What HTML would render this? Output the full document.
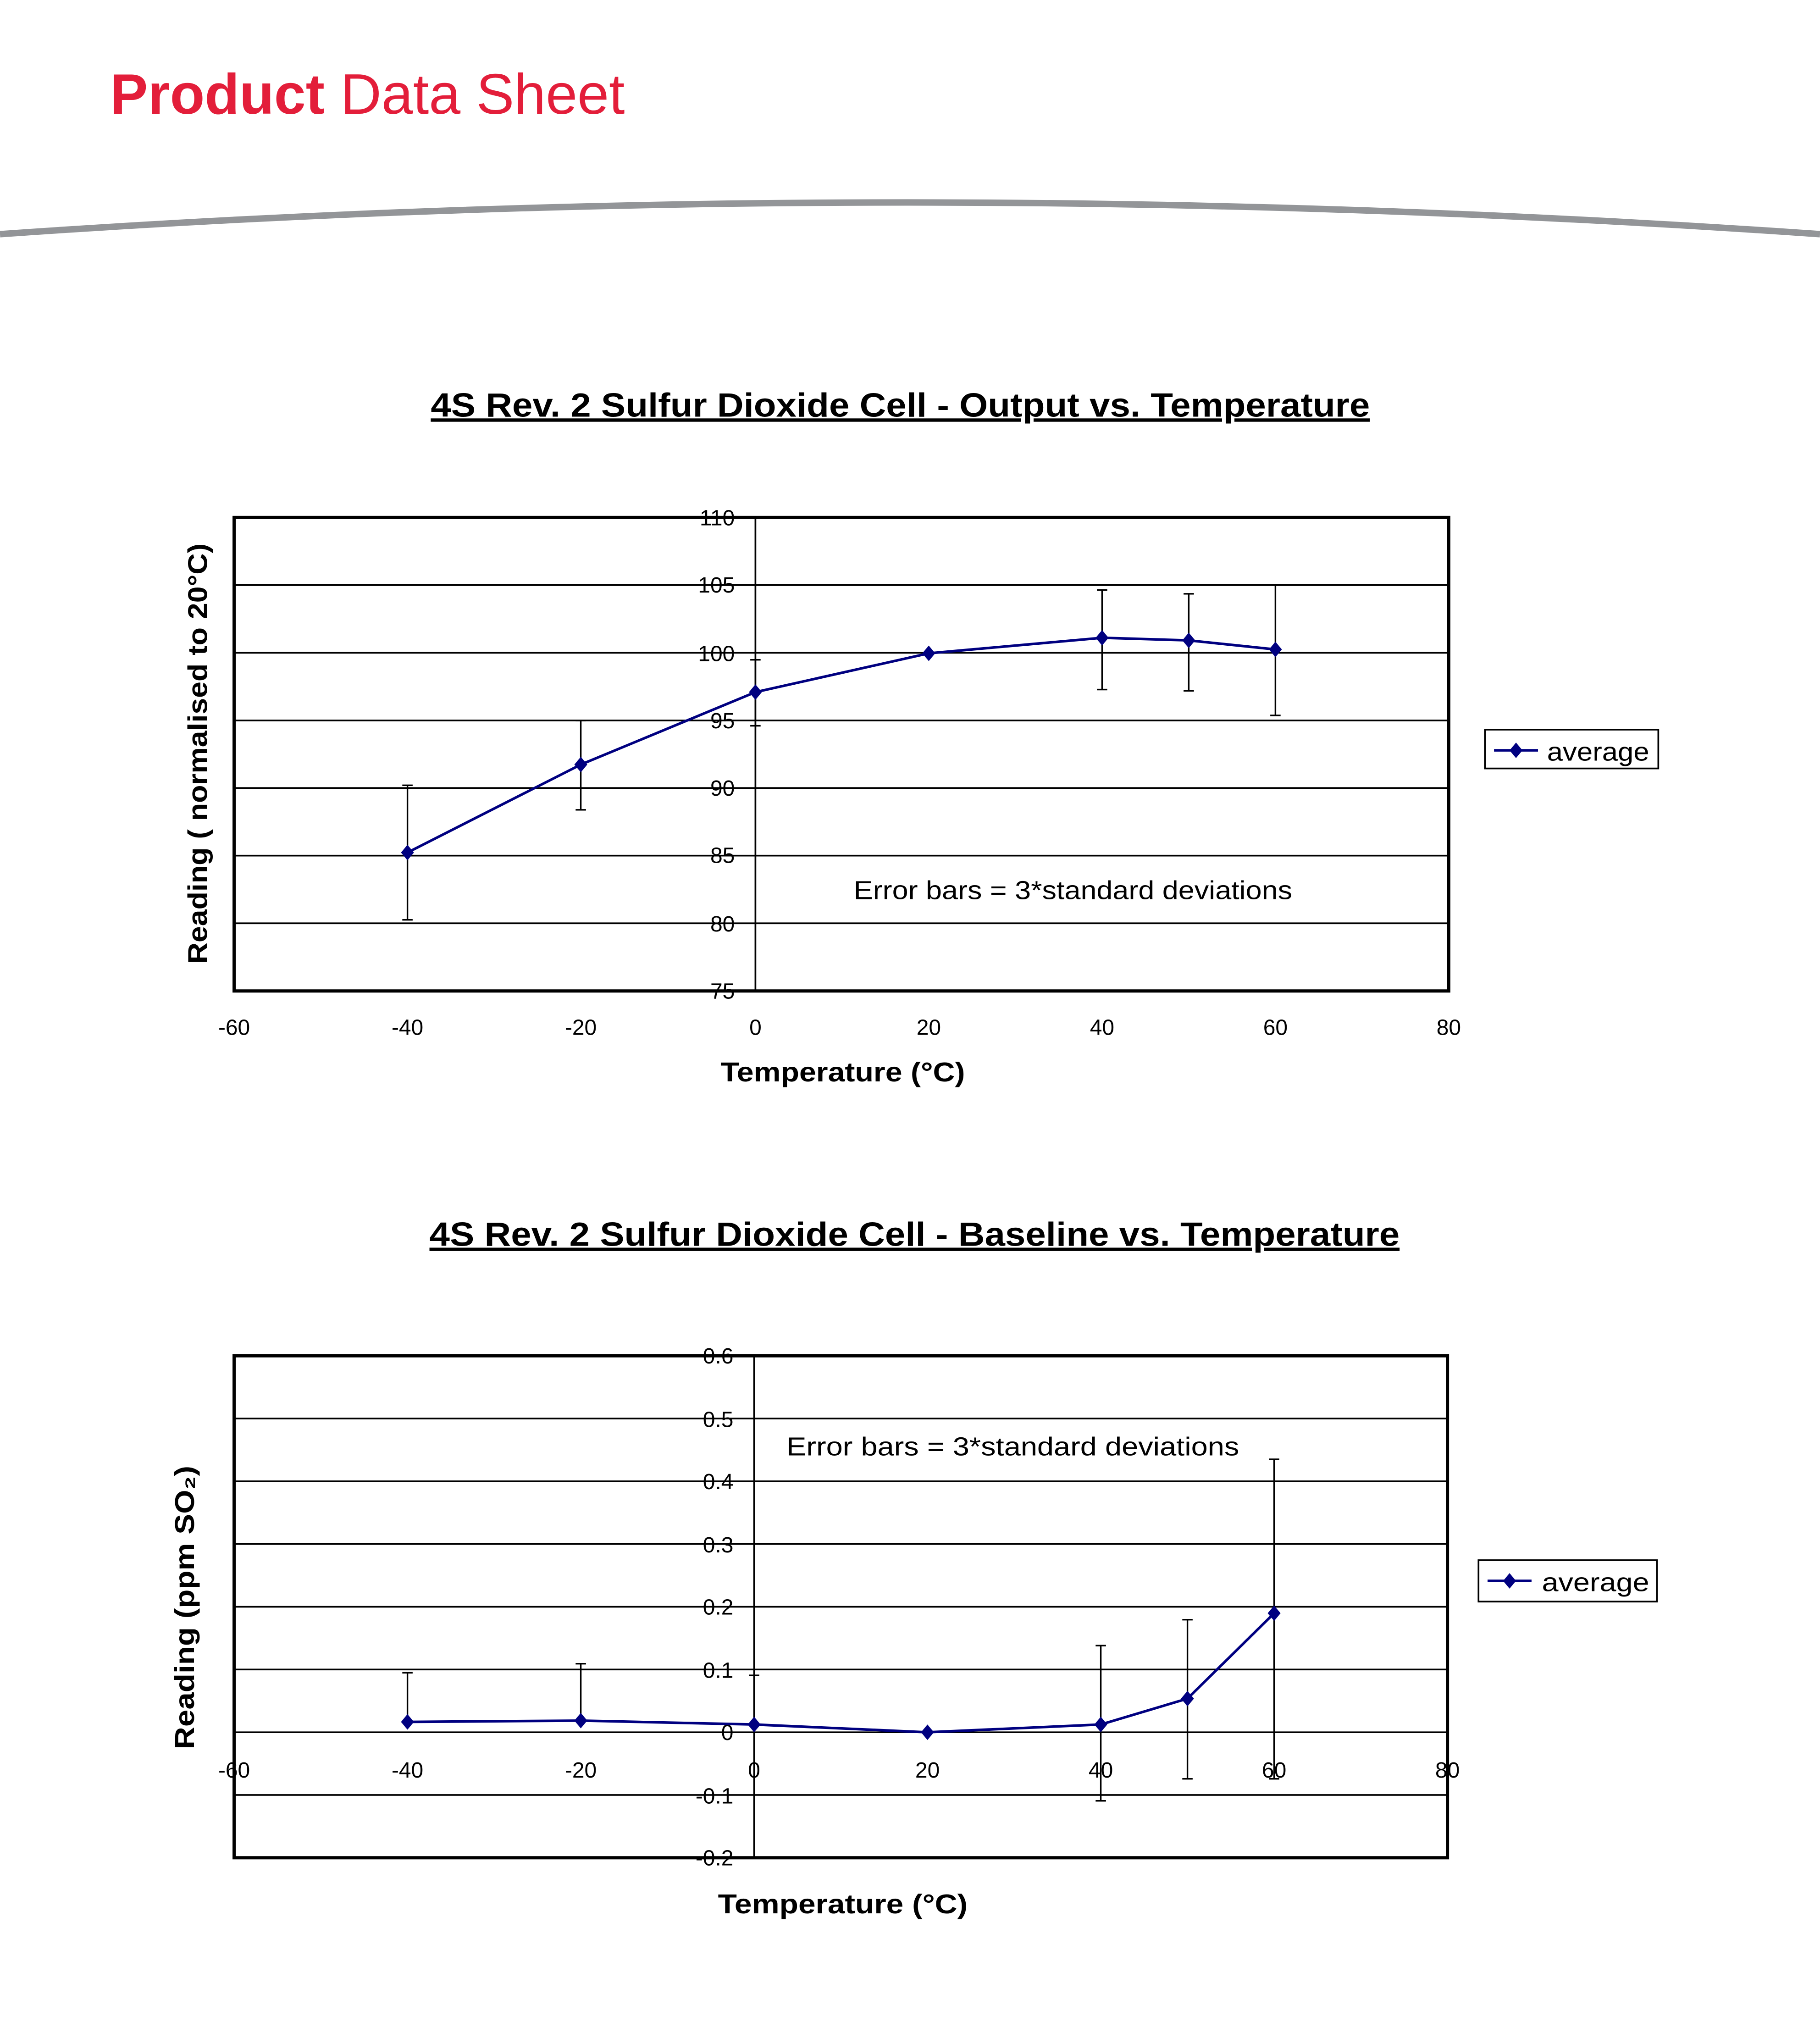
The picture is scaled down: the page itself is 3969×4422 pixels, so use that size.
<!DOCTYPE html>
<html><head><meta charset="utf-8"><style>
html,body{margin:0;padding:0;background:#fff}
svg{display:block}
</style></head><body>
<svg width="3969" height="4422" viewBox="0 0 1407 1567.6" xmlns="http://www.w3.org/2000/svg" font-family="Liberation Sans, sans-serif">
<rect width="1407" height="1567.6" fill="#fff"/>
<text x="85" y="88" font-size="44" fill="#e31e3a" textLength="398" lengthAdjust="spacingAndGlyphs"><tspan font-weight="bold">Product</tspan> Data Sheet</text>
<path d="M0 181 Q700 132 1407 181" stroke="#939598" stroke-width="5" fill="none"/>

<!-- Chart 1 -->
<text x="333" y="322" font-size="26" font-weight="bold" text-decoration="underline" textLength="726" lengthAdjust="spacingAndGlyphs">4S Rev. 2 Sulfur Dioxide Cell - Output vs. Temperature</text>
<g stroke="#000" stroke-width="1.3">
<line x1="181" y1="452.3" x2="1120" y2="452.3"/><line x1="181" y1="504.6" x2="1120" y2="504.6"/>
<line x1="181" y1="556.9" x2="1120" y2="556.9"/><line x1="181" y1="609.1" x2="1120" y2="609.1"/>
<line x1="181" y1="661.4" x2="1120" y2="661.4"/><line x1="181" y1="713.7" x2="1120" y2="713.7"/>
<line x1="584" y1="400" x2="584" y2="766"/>
</g>
<rect x="181" y="400" width="939" height="366" fill="none" stroke="#000" stroke-width="2.5"/>
<g font-size="17" fill="#000" text-anchor="end">
<text x="568" y="406">110</text><text x="568" y="458">105</text><text x="568" y="511">100</text><text x="568" y="563">95</text><text x="568" y="615">90</text><text x="568" y="667">85</text><text x="568" y="720">80</text><text x="568" y="772">75</text>
</g>
<g font-size="17" text-anchor="middle">
<text x="181" y="800">-60</text><text x="315" y="800">-40</text><text x="449" y="800">-20</text><text x="584" y="800">0</text><text x="718" y="800">20</text><text x="852" y="800">40</text><text x="986" y="800">60</text><text x="1120" y="800">80</text>
</g>
<text x="557" y="836" font-size="21" font-weight="bold" textLength="189" lengthAdjust="spacingAndGlyphs">Temperature (°C)</text>
<text transform="translate(160 745) rotate(-90)" font-size="21" font-weight="bold" textLength="325" lengthAdjust="spacingAndGlyphs">Reading ( normalised to 20°C)</text>
<text x="660" y="695" font-size="20" textLength="339" lengthAdjust="spacingAndGlyphs">Error bars = 3*standard deviations</text>
<g stroke="#000" stroke-width="1.2">
<line x1="315" y1="607" x2="315" y2="711"/><line x1="311" y1="607" x2="319" y2="607"/><line x1="311" y1="711" x2="319" y2="711"/>
<line x1="449" y1="557" x2="449" y2="626"/><line x1="445" y1="557" x2="453" y2="557"/><line x1="445" y1="626" x2="453" y2="626"/>
<line x1="584" y1="510" x2="584" y2="561"/><line x1="580" y1="510" x2="588" y2="510"/><line x1="580" y1="561" x2="588" y2="561"/>
<line x1="852" y1="456" x2="852" y2="533"/><line x1="848" y1="456" x2="856" y2="456"/><line x1="848" y1="533" x2="856" y2="533"/>
<line x1="919" y1="459" x2="919" y2="534"/><line x1="915" y1="459" x2="923" y2="459"/><line x1="915" y1="534" x2="923" y2="534"/>
<line x1="986" y1="452" x2="986" y2="553"/><line x1="982" y1="452" x2="990" y2="452"/><line x1="982" y1="553" x2="990" y2="553"/>
</g>
<polyline points="315,659 449,591 584,535 718,505 852,493 919,495 986,502" fill="none" stroke="#000080" stroke-width="2"/>
<g fill="#000080">
<path d="M315 653l5 6-5 6-5-6z"/><path d="M449 585l5 6-5 6-5-6z"/><path d="M584 529l5 6-5 6-5-6z"/><path d="M718 499l5 6-5 6-5-6z"/><path d="M852 487l5 6-5 6-5-6z"/><path d="M919 489l5 6-5 6-5-6z"/><path d="M986 496l5 6-5 6-5-6z"/>
</g>
<rect x="1148" y="564" width="134" height="30" fill="#fff" stroke="#000" stroke-width="1.3"/>
<line x1="1155" y1="580" x2="1189" y2="580" stroke="#000080" stroke-width="2"/><path d="M1172 574l5 6-5 6-5-6z" fill="#000080"/>
<text x="1196" y="588" font-size="20" textLength="79" lengthAdjust="spacingAndGlyphs">average</text>

<!-- Chart 2 -->
<text x="332" y="963" font-size="26" font-weight="bold" text-decoration="underline" textLength="750" lengthAdjust="spacingAndGlyphs">4S Rev. 2 Sulfur Dioxide Cell - Baseline vs. Temperature</text>
<g stroke="#000" stroke-width="1.3">
<line x1="181" y1="1096.5" x2="1119" y2="1096.5"/><line x1="181" y1="1145" x2="1119" y2="1145"/>
<line x1="181" y1="1193.5" x2="1119" y2="1193.5"/><line x1="181" y1="1242" x2="1119" y2="1242"/>
<line x1="181" y1="1290.5" x2="1119" y2="1290.5"/><line x1="181" y1="1339" x2="1119" y2="1339"/>
<line x1="181" y1="1387.5" x2="1119" y2="1387.5"/>
<line x1="583" y1="1048" x2="583" y2="1436"/>
</g>
<rect x="181" y="1048" width="938" height="388" fill="none" stroke="#000" stroke-width="2.5"/>
<g font-size="17" text-anchor="end">
<text x="567" y="1054">0.6</text><text x="567" y="1103">0.5</text><text x="567" y="1151">0.4</text><text x="567" y="1200">0.3</text><text x="567" y="1248">0.2</text><text x="567" y="1297">0.1</text><text x="567" y="1345">0</text><text x="567" y="1394">-0.1</text><text x="567" y="1442">-0.2</text>
</g>
<g font-size="17" text-anchor="middle">
<text x="181" y="1374">-60</text><text x="315" y="1374">-40</text><text x="449" y="1374">-20</text><text x="583" y="1374">0</text><text x="717" y="1374">20</text><text x="851" y="1374">40</text><text x="985" y="1374">60</text><text x="1119" y="1374">80</text>
</g>
<text x="555" y="1479" font-size="21" font-weight="bold" textLength="193" lengthAdjust="spacingAndGlyphs">Temperature (°C)</text>
<text transform="translate(150 1352) rotate(-90)" font-size="21" font-weight="bold" textLength="219" lengthAdjust="spacingAndGlyphs">Reading (ppm SO₂)</text>
<text x="608" y="1125" font-size="20" textLength="350" lengthAdjust="spacingAndGlyphs">Error bars = 3*standard deviations</text>
<g stroke="#000" stroke-width="1.2">
<line x1="315" y1="1293" x2="315" y2="1331"/><line x1="311" y1="1293" x2="319" y2="1293"/>
<line x1="449" y1="1286" x2="449" y2="1331"/><line x1="445" y1="1286" x2="453" y2="1286"/>
<line x1="583" y1="1295" x2="583" y2="1333"/><line x1="579" y1="1295" x2="587" y2="1295"/>
<line x1="851" y1="1272" x2="851" y2="1392"/><line x1="847" y1="1272" x2="855" y2="1272"/><line x1="847" y1="1392" x2="855" y2="1392"/>
<line x1="918" y1="1252" x2="918" y2="1375"/><line x1="914" y1="1252" x2="922" y2="1252"/><line x1="914" y1="1375" x2="922" y2="1375"/>
<line x1="985" y1="1128" x2="985" y2="1375"/><line x1="981" y1="1128" x2="989" y2="1128"/><line x1="981" y1="1375" x2="989" y2="1375"/>
</g>
<polyline points="315,1331 449,1330 583,1333 717,1339 851,1333 918,1313 985,1247" fill="none" stroke="#000080" stroke-width="2"/>
<g fill="#000080">
<path d="M315 1325l5 6-5 6-5-6z"/><path d="M449 1324l5 6-5 6-5-6z"/><path d="M583 1327l5 6-5 6-5-6z"/><path d="M717 1333l5 6-5 6-5-6z"/><path d="M851 1327l5 6-5 6-5-6z"/><path d="M918 1307l5 6-5 6-5-6z"/><path d="M985 1241l5 6-5 6-5-6z"/>
</g>
<rect x="1143" y="1206" width="138" height="32" fill="#fff" stroke="#000" stroke-width="1.3"/>
<line x1="1150" y1="1222" x2="1184" y2="1222" stroke="#000080" stroke-width="2"/><path d="M1167 1216l5 6-5 6-5-6z" fill="#000080"/>
<text x="1192" y="1230" font-size="20" textLength="83" lengthAdjust="spacingAndGlyphs">average</text>
</svg>
</body></html>
